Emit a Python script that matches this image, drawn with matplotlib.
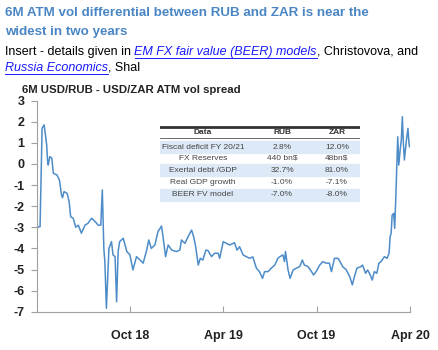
import matplotlib
matplotlib.use("Agg")
import matplotlib.pyplot as plt
import matplotlib.dates as mdates
import pandas as pd

# 6M USD/RUB minus USD/ZAR ATM implied vol, weekly-ish snapshots
dates = [
    "2018-04-01", "2018-04-07", "2018-04-11", "2018-04-15", "2018-04-20", "2018-04-22",
    "2018-04-23", "2018-04-26", "2018-04-30", "2018-05-03", "2018-05-10", "2018-05-15",
    "2018-05-19", "2018-05-21", "2018-05-24", "2018-05-30", "2018-06-03", "2018-06-06",
    "2018-06-11", "2018-06-16", "2018-06-21", "2018-06-27", "2018-07-04", "2018-07-10",
    "2018-07-17", "2018-07-24", "2018-07-30", "2018-08-04", "2018-08-07", "2018-08-10",
    "2018-08-12", "2018-08-15", "2018-08-20", "2018-08-25", "2018-08-28", "2018-09-01",
    "2018-09-04", "2018-09-07", "2018-09-10", "2018-09-17", "2018-09-24", "2018-09-30",
    "2018-10-06", "2018-10-13", "2018-10-20", "2018-10-26", "2018-11-02", "2018-11-06",
    "2018-11-11", "2018-11-18", "2018-11-24", "2018-12-01", "2018-12-04", "2018-12-09",
    "2018-12-14", "2018-12-21", "2018-12-30", "2019-01-06", "2019-01-09", "2019-01-16",
    "2019-01-22", "2019-01-29", "2019-02-02", "2019-02-06", "2019-02-11", "2019-02-15",
    "2019-02-20", "2019-02-26", "2019-03-02", "2019-03-09", "2019-03-15", "2019-03-22",
    "2019-03-25", "2019-04-01", "2019-04-07", "2019-04-14", "2019-04-23", "2019-04-28",
    "2019-05-03", "2019-05-10", "2019-05-16", "2019-05-23", "2019-05-29", "2019-06-05",
    "2019-06-11", "2019-06-17", "2019-06-21", "2019-06-28", "2019-07-04", "2019-07-11",
    "2019-07-17", "2019-07-21", "2019-07-27", "2019-07-30", "2019-08-01", "2019-08-06",
    "2019-08-10", "2019-08-16", "2019-08-22", "2019-08-29", "2019-09-03", "2019-09-07",
    "2019-09-14", "2019-09-21", "2019-09-25", "2019-09-30", "2019-10-07", "2019-10-13",
    "2019-10-20", "2019-10-26", "2019-10-30", "2019-11-05", "2019-11-12", "2019-11-16",
    "2019-11-21", "2019-11-28", "2019-12-05", "2019-12-10", "2019-12-14", "2019-12-19",
    "2019-12-27", "2019-12-30", "2020-01-05", "2020-01-09", "2020-01-14", "2020-01-18",
    "2020-01-22", "2020-01-27", "2020-01-31", "2020-02-04", "2020-02-11", "2020-02-16",
    "2020-02-20", "2020-02-22", "2020-02-24", "2020-02-26", "2020-02-29", "2020-03-02",
    "2020-03-04", "2020-03-06", "2020-03-08", "2020-03-10", "2020-03-13", "2020-03-15",
    "2020-03-17", "2020-03-19", "2020-03-21", "2020-03-25", "2020-03-28", "2020-03-30",
    "2020-03-31",
]
spread = [
    -3.0, -2.97, 1.7, 1.85, 0.9, 0.03,
    -0.05, 0.35, 0.28, -0.44, -0.52, -0.76,
    -1.47, -1.6, -1.31, -1.39, -1.79, -2.5,
    -2.57, -3.0, -2.9, -3.28, -2.9, -2.81,
    -2.57, -2.73, -2.9, -2.9, -1.23, -4.0,
    -4.63, -6.84, -4.0, -3.68, -4.31, -4.39,
    -6.53, -4.15, -3.68, -3.52, -4.15, -4.3,
    -5.02, -4.39, -4.55, -4.7, -4.08, -3.6,
    -4.0, -3.84, -3.21, -2.94, -3.45, -4.39,
    -3.84, -4.08, -4.15, -4.08, -3.6, -3.76,
    -3.45, -3.13, -3.45, -3.92, -4.79, -4.47,
    -4.55, -4.08, -4.1, -4.39, -4.23, -4.23,
    -4.47, -3.68, -3.76, -3.84, -3.73, -4.08,
    -3.92, -4.31, -4.39, -4.47, -4.4, -4.94,
    -5.1, -5.42, -5.1, -5.1, -4.94, -4.79,
    -4.47, -4.39, -4.31, -4.63, -4.15, -5.02,
    -5.42, -5.02, -4.94, -4.86, -4.55, -4.79,
    -4.86, -5.1, -5.26, -5.1, -4.79, -4.63,
    -4.7, -4.7, -5.1, -4.47, -4.47, -4.63,
    -4.86, -5.02, -5.34, -5.73, -5.34, -4.94,
    -4.86, -4.79, -5.18, -5.02, -5.26, -5.5,
    -5.1, -5.18, -4.7, -4.63, -4.39, -4.47,
    -4.23, -3.45, -3.29, -2.42, -2.34, -3.05,
    -1.7, -0.13, 1.29, -0.05, 0.74, 1.14,
    2.24, 0.98, 0.19, 1.14, 1.69, 0.98,
    0.82,
]

# inset table
tbl_header = ["Data", "RUB", "ZAR"]
tbl_rows = ["Fiscal deficit FY 20/21", "FX Reserves", "Exertal debt /GDP",
            "Real GDP growth", "BEER FV model"]
tbl_rub = ["2.8%", "440 bn$", "32.7%", "-1.0%", "-7.0%"]
tbl_zar = ["12.0%", "48bn$", "81.0%", "-7.1%", "-8.0%"]

y_ticks = [3, 2, 1, 0, -1, -2, -3, -4, -5, -6, -7]
x_ticks = ["2018-10-01", "2019-04-01", "2019-10-01", "2020-04-01"]

plt.rcParams["font.family"] = ["Liberation Sans", "DejaVu Sans"]
plt.rcParams["axes.unicode_minus"] = False

W, H = 438, 350
fig = plt.figure(figsize=(W / 100, H / 100), dpi=100)

blue_title = "#4a86c4"
fig.text(5 / W, 1 - 13 / H, "6M ATM vol differential between RUB and ZAR is near the",
         color=blue_title, fontsize=9.6, fontweight="bold", va="center")
fig.text(5 / W, 1 - 32 / H, "widest in two years",
         color=blue_title, fontsize=9.6, fontweight="bold", va="center")

link = "#1a1aff"
t1 = fig.text(5 / W, 1 - 52 / H, "Insert - details given in ", fontsize=9, va="center")
fig.canvas.draw()
r = fig.canvas.get_renderer()
bb = t1.get_window_extent(r)
t2 = fig.text(bb.x1 / W, 1 - 52 / H, "EM FX fair value (BEER) models", fontsize=9,
              va="center", color=link, style="italic")
bb2 = t2.get_window_extent(r)
fig.add_artist(plt.Line2D([bb.x1 / W, bb2.x1 / W], [1 - 58 / H] * 2, color=link, lw=0.7))
fig.text(bb2.x1 / W, 1 - 52 / H, ", Christovova, and", fontsize=9, va="center")
t3 = fig.text(5 / W, 1 - 68 / H, "Russia Economics", fontsize=9, va="center",
              color=link, style="italic")
bb3 = t3.get_window_extent(r)
fig.add_artist(plt.Line2D([5 / W, bb3.x1 / W], [1 - 74 / H] * 2, color=link, lw=0.7))
fig.text(bb3.x1 / W, 1 - 68 / H, ", Shal", fontsize=9, va="center")

fig.text(22 / W, 1 - 90 / H, "6M USD/RUB - USD/ZAR ATM vol spread", fontsize=8.2,
         fontweight="bold", va="center", color="#222222")

# main chart
ax = fig.add_axes([37 / W, 1 - 311.7 / H, (410 - 37) / W, (311.7 - 100.7) / H])
x = pd.to_datetime(dates)
ax.plot(x, spread, color="#4d8cc8", lw=1.1)
ax.set_ylim(-7, 3)
ax.set_xlim(pd.Timestamp("2018-04-01"), pd.Timestamp("2020-04-01"))
ax.set_yticks(y_ticks)
ax.set_xticks(pd.to_datetime(x_ticks))
ax.xaxis.set_major_formatter(mdates.DateFormatter("%b %y"))
for s in ["top", "right"]:
    ax.spines[s].set_visible(False)
for s in ["left", "bottom"]:
    ax.spines[s].set_color("#a0a0a0")
ax.tick_params(axis="y", length=4, color="#a0a0a0", pad=5)
ax.tick_params(axis="x", length=4, color="#a0a0a0", direction="in", pad=13)
for lab in ax.get_xticklabels() + ax.get_yticklabels():
    lab.set_fontweight("bold")
    lab.set_fontsize(9)
    lab.set_color("#222222")

# inset table
tx = fig.add_axes([160 / W, 1 - 205 / H, 200 / W, (205 - 126) / H])
tx.set_xlim(0, 200)
tx.set_ylim(79, 0)
tx.axis("off")
tx.add_patch(plt.Rectangle((0, 0), 200, 79, color="white", zorder=0))
row_y = [21, 32, 44, 57, 69]
band_h = 12
for i, yy in enumerate(row_y):
    if i % 2 == 0:
        tx.add_patch(plt.Rectangle((0, yy - band_h / 2), 200, band_h, color="#dde9f7", zorder=1))
tx.plot([0, 200], [0.8, 0.8], color="#333333", lw=2, zorder=3)
tx.plot([0, 200], [12, 12], color="#555555", lw=0.6, zorder=3)
col_x = [43, 122, 177]
for cx, h in zip(col_x, tbl_header):
    tx.text(cx, 6.5, h, ha="center", va="center", fontsize=6, fontweight="bold",
            color="#333333", zorder=4)
for yy, a, b, c in zip(row_y, tbl_rows, tbl_rub, tbl_zar):
    for cx, s in zip(col_x, [a, b, c]):
        tx.text(cx, yy, s, ha="center", va="center", fontsize=6,
                color="#444444", zorder=4)

fig.savefig("out.png", dpi=100)
